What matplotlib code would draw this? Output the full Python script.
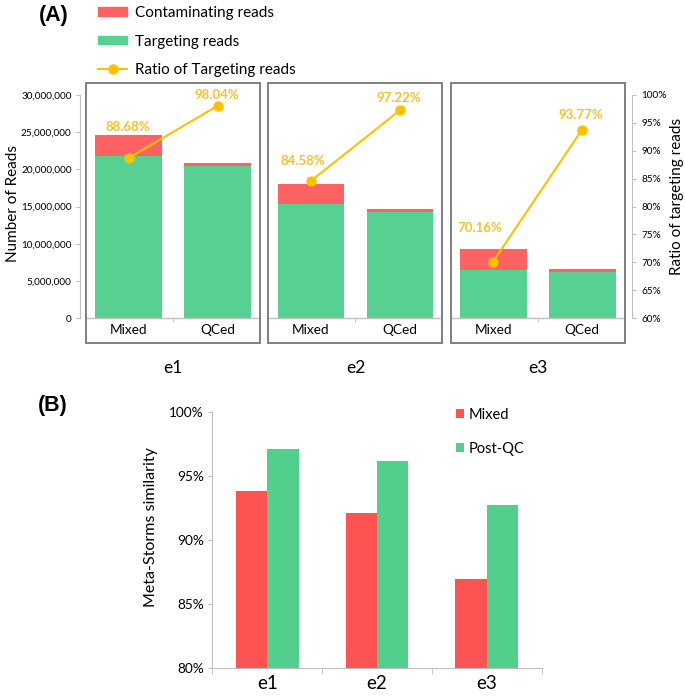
import matplotlib
matplotlib.use("Agg")
import matplotlib.pyplot as plt
from matplotlib.patches import Rectangle, Patch
from matplotlib.lines import Line2D
from matplotlib.transforms import blended_transform_factory
from matplotlib.ticker import FuncFormatter
import numpy as np

plt.rcParams['font.family'] = ['Lato', 'DejaVu Sans']

# ---------------- data ----------------
samples = ['e1', 'e2', 'e3']
conditions = ['Mixed', 'QCed']
# order: e1-Mixed, e1-QCed, e2-Mixed, e2-QCed, e3-Mixed, e3-QCed
targeting_reads = [21.8e6, 20.4e6, 15.3e6, 14.25e6, 6.5e6, 6.15e6]
contaminating_reads = [2.8e6, 0.4e6, 2.7e6, 0.4e6, 2.8e6, 0.4e6]
ratio_targeting = [88.68, 98.04, 84.58, 97.22, 70.16, 93.77]
ratio_labels = ['88.68%', '98.04%', '84.58%', '97.22%', '70.16%', '93.77%']

similarity_mixed = [93.8, 92.1, 86.95]
similarity_postqc = [97.05, 96.15, 92.7]
sim_series = ['Mixed', 'Post-QC']

reads_ticks = [0, 5e6, 10e6, 15e6, 20e6, 25e6, 30e6]
ratio_ticks = [60, 65, 70, 75, 80, 85, 90, 95, 100]
sim_ticks = [80, 85, 90, 95, 100]

# ---------------- style ----------------
RED = '#FF6262'
GREEN = '#57D192'
RED_B = '#FF5252'
GREEN_B = '#52CF8C'
GOLD = '#FFC000'
GOLD_TXT = '#F7C12E'
FRAME = '#7F7F7F'
AXIS = '#BFBFBF'

W, H = 685, 696
fig = plt.figure(figsize=(W / 100, H / 100), dpi=100)

def rect(l, t, r, b):
    return [l / W, 1 - b / H, (r - l) / W, (b - t) / H]

# ---------------- panel A ----------------
GAP = 2.047      # group spacing in category units
BW = 0.75        # bar width
HALF_BOX = 0.977

axA = fig.add_axes(rect(80, 82.7, 631.7, 343.3))
centers = np.arange(len(samples)) * GAP
xpos = np.array([[c - 0.5, c + 0.5] for c in centers]).ravel()

axA.bar(xpos, targeting_reads, width=BW, color=GREEN, zorder=2)
axA.bar(xpos, contaminating_reads, width=BW, bottom=targeting_reads,
        color=RED, zorder=2)
axA.set_xlim(-1.048, 5.151)
axA.set_ylim(-3.354e6, 31.61e6)

axA.spines['top'].set_visible(False)
axA.spines['right'].set_visible(False)
axA.spines['bottom'].set_position(('data', 0))
axA.spines['bottom'].set_visible(False)
axA.spines['left'].set_bounds(0, 30e6)
axA.spines['left'].set_color(AXIS)
axA.set_yticks(reads_ticks)
axA.yaxis.set_major_formatter(FuncFormatter(lambda v, p: f'{v:,.0f}'))
axA.tick_params(axis='y', labelsize=7.2, length=3, color=AXIS, pad=3)

axA.set_xticks(xpos)
axA.set_xticklabels(conditions * len(samples), fontsize=9.8)
axA.tick_params(axis='x', which='major', length=0, pad=4)
axA.set_xticks(centers, minor=True)
axA.tick_params(axis='x', which='minor', length=3, color=AXIS)

btrans = blended_transform_factory(axA.transData, axA.transAxes)
for c, s in zip(centers, samples):
    axA.hlines(0, c - HALF_BOX, c + HALF_BOX, color=AXIS, lw=1, zorder=3)
    axA.add_patch(Rectangle((c - HALF_BOX, 0), 2 * HALF_BOX, 1,
                            transform=btrans, fill=False, ec=FRAME, lw=1.4,
                            clip_on=False, zorder=4))
    axA.text(c, -0.095, s, transform=btrans, ha='center', va='center',
             fontsize=12.5)

axR = axA.twinx()
axR.set_ylim(55.53, 102.15)
for sp in ['top', 'left', 'bottom']:
    axR.spines[sp].set_visible(False)
axR.spines['right'].set_bounds(60, 100)
axR.spines['right'].set_color(AXIS)
axR.set_yticks(ratio_ticks)
axR.yaxis.set_major_formatter(FuncFormatter(lambda v, p: f'{v:.0f}%'))
axR.tick_params(axis='y', labelsize=7.2, length=3, color=AXIS, pad=4)

label_offsets = [(-1, 31), (-1, 10.5), (-8, 20), (-1, 12), (-13, 34), (-1, 14.5)]
for g in range(len(samples)):
    xs = xpos[2 * g:2 * g + 2]
    ys = ratio_targeting[2 * g:2 * g + 2]
    axR.plot(xs, ys, color=GOLD, lw=1.5, marker='o', ms=6.5, zorder=5)
for x, y, t, off in zip(xpos, ratio_targeting, ratio_labels, label_offsets):
    axR.annotate(t, (x, y), xytext=off, textcoords='offset pixels',
                 ha='center', va='center', fontsize=9.5, fontweight='bold',
                 color=GOLD_TXT)

fig.text(13 / W, 1 - 204 / H, 'Number of Reads', rotation=90,
         ha='center', va='center', fontsize=11)
fig.text(677 / W, 1 - 196 / H, 'Ratio of targeting reads', rotation=90,
         ha='center', va='center', fontsize=11)

handlesA = [Patch(color=RED), Patch(color=GREEN),
            Line2D([], [], color=GOLD, lw=1.5, marker='o', ms=6.5)]
fig.legend(handlesA, ['Contaminating reads', 'Targeting reads',
                      'Ratio of Targeting reads'],
           loc='upper left', bbox_to_anchor=(97.7 / W, 1 - 6 / H),
           frameon=False, fontsize=11, handlelength=1.95,
           handleheight=0.45, handletextpad=0.5, labelspacing=0.95,
           borderpad=0, borderaxespad=0)

fig.text(39 / W, 1 - 16 / H, '(A)', ha='left', va='center', fontsize=15.5,
         fontweight='bold', family='Liberation Sans')
fig.text(38 / W, 1 - 405 / H, '(B)', ha='left', va='center', fontsize=15.5,
         fontweight='bold', family='Liberation Sans')

# ---------------- panel B ----------------
axB = fig.add_axes(rect(212.3, 411.7, 541.7, 667.7))
xb = np.arange(len(samples))
wb = 0.286
axB.bar(xb - wb / 2, similarity_mixed, width=wb, color=RED_B, label=sim_series[0])
axB.bar(xb + wb / 2, similarity_postqc, width=wb, color=GREEN_B, label=sim_series[1])
axB.set_ylim(80, 100)
axB.set_xlim(-0.5, 2.5)
axB.spines['top'].set_visible(False)
axB.spines['right'].set_visible(False)
axB.spines['left'].set_color(AXIS)
axB.spines['bottom'].set_color(AXIS)
axB.set_yticks(sim_ticks)
axB.yaxis.set_major_formatter(FuncFormatter(lambda v, p: f'{v:.0f}%'))
axB.tick_params(axis='y', labelsize=9.8, length=3, color=AXIS, pad=3)
axB.set_xticks(xb)
axB.set_xticklabels(samples, fontsize=13.5)
axB.tick_params(axis='x', which='major', length=0, pad=5)
axB.set_xticks([-0.5, 0.5, 1.5, 2.5], minor=True)
axB.tick_params(axis='x', which='minor', length=4, color=AXIS)

fig.text(151 / W, 1 - 527 / H, 'Meta-Storms similarity', rotation=90,
         ha='center', va='center', fontsize=11.5)

hB, lB = axB.get_legend_handles_labels()
fig.legend(hB, lB, loc='upper left', bbox_to_anchor=(456 / W, 1 - 408 / H),
           frameon=False, fontsize=10.5, handlelength=0.55, handleheight=0.55,
           handletextpad=0.3, labelspacing=1.35, borderpad=0, borderaxespad=0)

fig.savefig('out.png', dpi=100)
